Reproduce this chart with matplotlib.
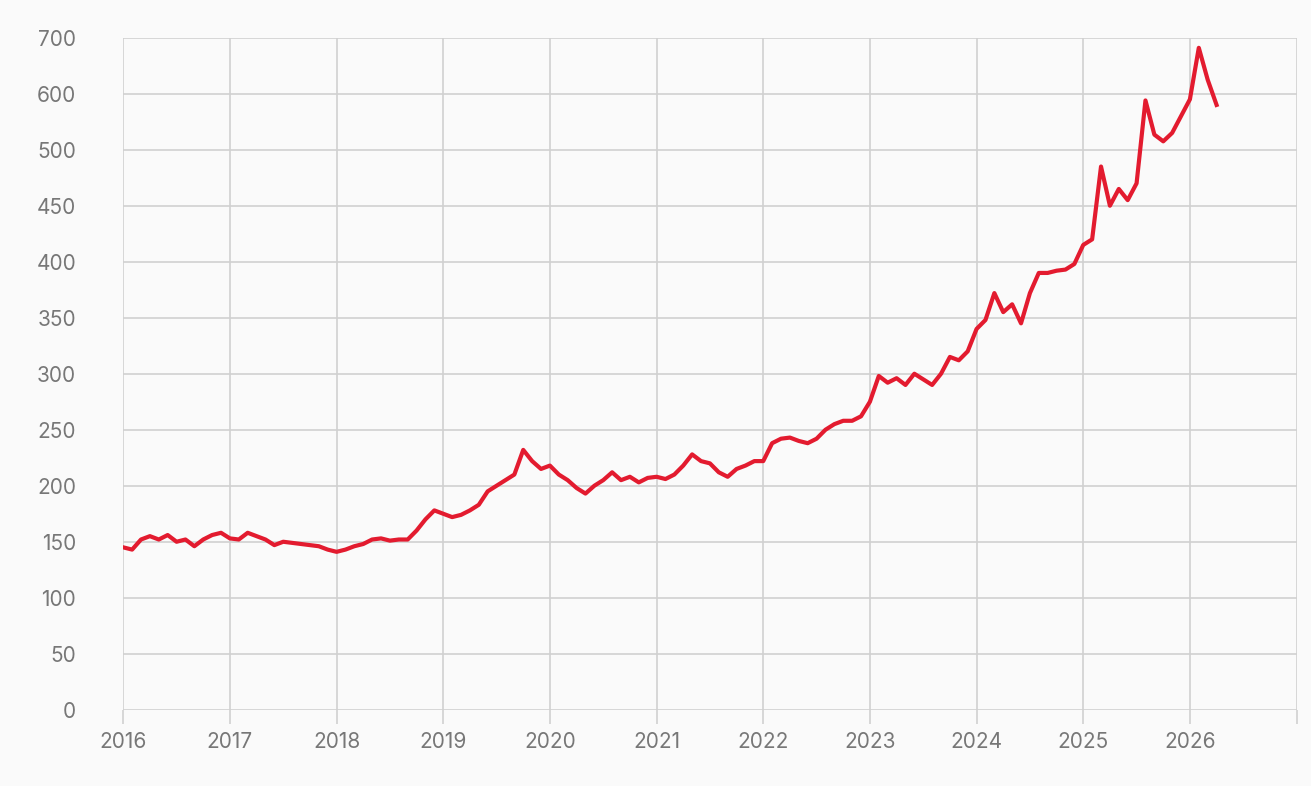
import matplotlib
matplotlib.use("Agg")
import matplotlib.pyplot as plt
import numpy as np

values_by_year = {
    2016: [145, 143, 152, 155, 152, 156, 150, 152, 146, 152, 156, 158],
    2017: [153, 152, 158, 155, 152, 147, 150, 149, 148, 147, 146, 143],
    2018: [141, 143, 146, 148, 152, 153, 151, 152, 152, 160, 170, 178],
    2019: [175, 172, 174, 178, 183, 195, 200, 205, 210, 232, 222, 215],
    2020: [218, 210, 205, 198, 193, 200, 205, 212, 205, 208, 203, 207],
    2021: [208, 206, 210, 218, 228, 222, 220, 212, 208, 215, 218, 222],
    2022: [222, 238, 242, 243, 240, 238, 242, 250, 255, 258, 258, 262],
    2023: [275, 298, 292, 296, 290, 300, 295, 290, 300, 315, 312, 320],
    2024: [340, 348, 372, 355, 362, 345, 372, 390, 390, 392, 393, 398],
    2025: [415, 420, 485, 450, 465, 455, 470, 588, 527, 515, 530, 560],
    2026: [590, 682, 625, 580],
}
x_ticks = list(range(2016, 2028))
x_labels = [str(y) for y in range(2016, 2027)] + [""]
y_ticks = [0, 50, 100, 150, 200, 250, 300, 350, 400, 450, 500, 600, 700]

def fwd(v):
    v = np.asarray(v, dtype=float)
    return np.where(v <= 500, v / 50, 10 + (v - 500) / 100)

def inv(u):
    u = np.asarray(u, dtype=float)
    return np.where(u <= 10, u * 50, 500 + (u - 10) * 100)

xs, ys = [], []
for yr, vals in values_by_year.items():
    for m, v in enumerate(vals):
        xs.append(yr + m / 12)
        ys.append(v)

fig = plt.figure(figsize=(13.11, 7.86), dpi=100)
fig.patch.set_facecolor("#fafafa")
ax = fig.add_axes([0.094, 0.097, 0.895, 0.855])
ax.set_facecolor("#fafafa")
ax.set_yscale("function", functions=(fwd, inv))
ax.plot(xs, ys, color="#e31b2f", lw=3)
ax.set_xlim(2016, 2027)
ax.set_ylim(0, 700)
ax.set_xticks(x_ticks)
ax.set_xticklabels(x_labels)
ax.set_yticks(y_ticks)
ax.set_yticklabels([str(v) for v in y_ticks])
ax.minorticks_off()
ax.grid(True, color="#d0d0d0", lw=1.2)
ax.set_axisbelow(True)
for s in ax.spines.values():
    s.set_visible(False)
ax.tick_params(axis="x", length=10, color="#d0d0d0", width=1.2, pad=6,
               labelsize=15, labelcolor="#777777")
ax.tick_params(axis="y", length=0, pad=34, labelsize=15, labelcolor="#777777")
for l in ax.get_yticklabels():
    l.set_horizontalalignment("right")
for l in ax.get_xticklabels() + ax.get_yticklabels():
    l.set_family("Inter")
fig.savefig("out.png", dpi=100, facecolor=fig.get_facecolor())
